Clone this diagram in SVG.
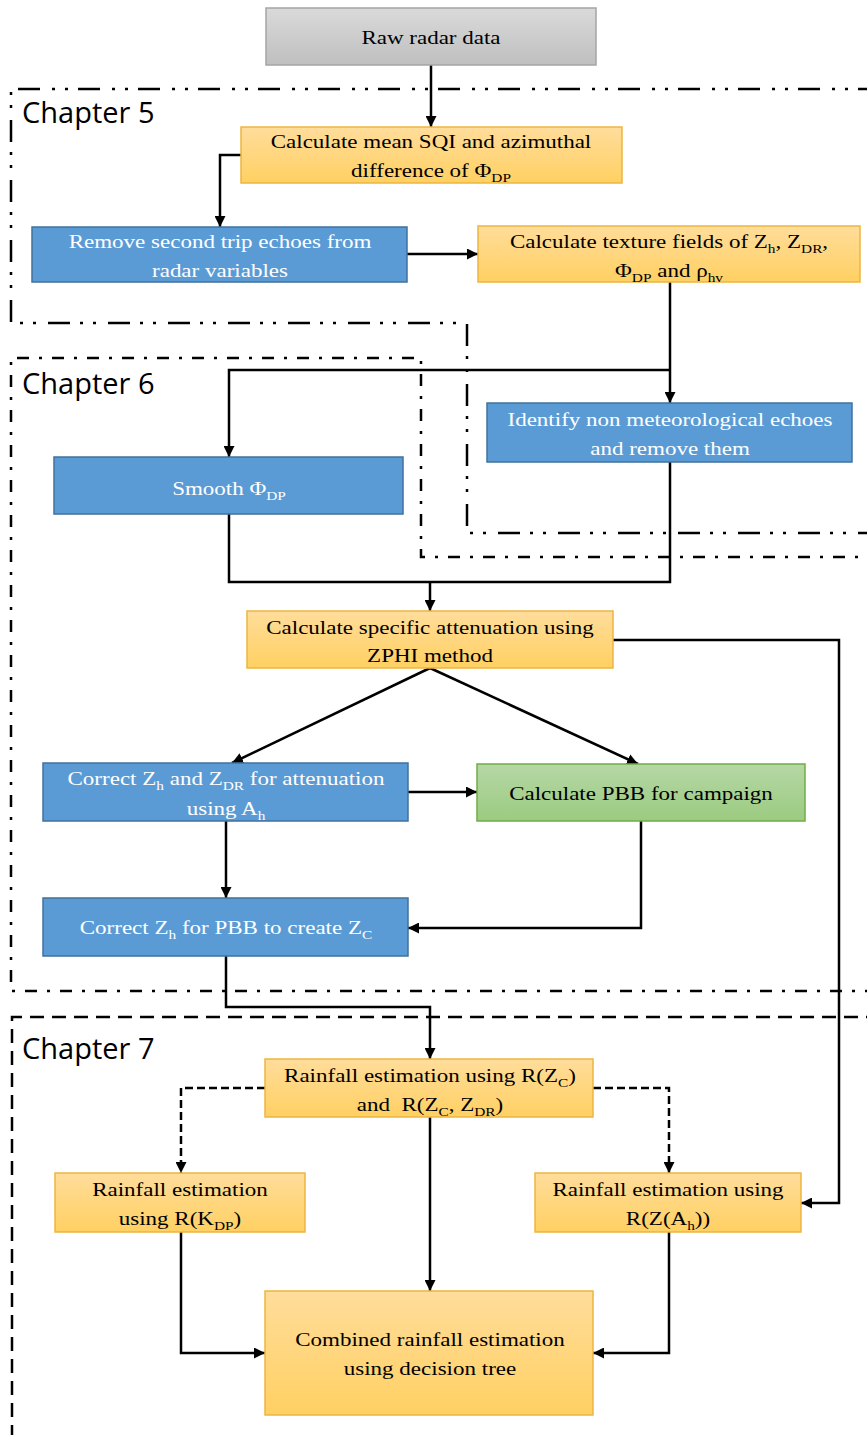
<svg xmlns="http://www.w3.org/2000/svg" width="867" height="1435" viewBox="0 0 867 1435">
  <style>
    .box { stroke-width: 1.5; }
    .blue { fill: #5B9BD5; stroke: #41719C; }
    .gold { fill: url(#gGold); stroke: #EDB540; }
    .green { fill: url(#gGreen); stroke: #70AD47; }
    .gray { fill: url(#gGray); stroke: #A5A5A5; }
    .t { font-family: "Liberation Serif", "Times New Roman", serif; font-size: 19.5px; text-anchor: middle; fill: #000; }
    .w { fill: #fff; }
    .sb { font-size: 13px; }
    .ch { font-family: "Open Sans", "Noto Sans", sans-serif; font-size: 29px; fill: #000; }
    .frame { fill: none; stroke: #000; stroke-width: 2.5; }
    .f5 { stroke-dasharray: 22 10 3 10 3 12; }
    .f6 { stroke-dasharray: 12 10 3 10; }
    .f7 { stroke-dasharray: 14 8; }
    .c { fill: none; stroke: #000; stroke-width: 2.5; }
    .a { marker-end: url(#arr); }
    .d { stroke-dasharray: 8 4; }
  </style>
  <defs>
    <linearGradient id="gGold" x1="0" y1="0" x2="0" y2="1">
      <stop offset="0" stop-color="#FFDD9B"/>
      <stop offset="1" stop-color="#FFD062"/>
    </linearGradient>
    <linearGradient id="gGreen" x1="0" y1="0" x2="0" y2="1">
      <stop offset="0" stop-color="#B6D7A6"/>
      <stop offset="1" stop-color="#9BCB80"/>
    </linearGradient>
    <linearGradient id="gGray" x1="0" y1="0" x2="0" y2="1">
      <stop offset="0" stop-color="#DADADA"/>
      <stop offset="1" stop-color="#BFBFBF"/>
    </linearGradient>
    <marker id="arr" markerUnits="userSpaceOnUse" markerWidth="12" markerHeight="11" refX="11" refY="5.5" orient="auto">
      <path d="M0,0 L11,5.5 L0,11 z" fill="#000"/>
    </marker>
  </defs>

  <!-- chapter frames -->
  <g id="frames">
    <path class="frame f5" d="M880 89 H11 V323 H467 V533 H880"/>
    <text class="ch" x="22" y="123">Chapter 5</text>
    <path class="frame f6" d="M880 557 H421 V358 H11 V991 H880"/>
    <text class="ch" x="22" y="394">Chapter 6</text>
    <path class="frame f7" d="M880 1017 H12 V1440"/>
    <text class="ch" x="22" y="1059">Chapter 7</text>
  </g>

  <!-- connectors -->
  <g id="connectors">
    <path class="c a" d="M431 65 V127"/>
    <path class="c a" d="M241 155 H220 V227"/>
    <path class="c a" d="M407 254 H478"/>
    <path class="c a" d="M670 282 V403"/>
    <path class="c a" d="M670 370 H229 V457"/>
    <path class="c" d="M229 514 V582 H670 V462"/>
    <path class="c a" d="M430 582 V611"/>
    <path class="c a" d="M430 668 L232 763"/>
    <path class="c a" d="M430 668 L638 764"/>
    <path class="c a" d="M408 792 H477"/>
    <path class="c a" d="M226 821 V898"/>
    <path class="c a" d="M641 821 V928 H408"/>
    <path class="c a" d="M613 640 H839 V1203 H801"/>
    <path class="c a" d="M226 956 V1007 H430 V1059"/>
    <path class="c d a" d="M265 1088 H181 V1173"/>
    <path class="c d a" d="M593 1088 H669 V1173"/>
    <path class="c a" d="M430 1117 V1291"/>
    <path class="c a" d="M181 1232 V1353 H265"/>
    <path class="c a" d="M669 1232 V1353 H593"/>
  </g>

  <g id="raw">
    <rect class="box gray" x="266" y="8" width="330" height="57"/>
    <text class="t" transform="translate(431 44) scale(1.18 1)">Raw radar data</text>
  </g>
  <g id="sqi">
    <rect class="box gold" x="241" y="127" width="381" height="56"/>
    <text class="t" transform="translate(431 148) scale(1.18 1)">Calculate mean SQI and azimuthal</text>
    <text class="t" transform="translate(431 177) scale(1.18 1)">difference of Φ<tspan class="sb" dy="5">DP</tspan></text>
  </g>
  <g id="second-trip">
    <rect class="box blue" x="32" y="227" width="375" height="55"/>
    <text class="t w" transform="translate(220 248) scale(1.18 1)">Remove second trip echoes from</text>
    <text class="t w" transform="translate(220 277) scale(1.18 1)">radar variables</text>
  </g>
  <g id="texture">
    <rect class="box gold" x="478" y="226" width="382" height="56"/>
    <text class="t" transform="translate(669 248) scale(1.18 1)">Calculate texture fields of Z<tspan class="sb" dy="5">h</tspan><tspan dy="-5">, Z</tspan><tspan class="sb" dy="5">DR</tspan><tspan dy="-5">,</tspan></text>
    <text class="t" transform="translate(669 277) scale(1.18 1)">Φ<tspan class="sb" dy="5">DP</tspan><tspan dy="-5"> and ρ</tspan><tspan class="sb" dy="5">hv</tspan></text>
  </g>
  <g id="identify">
    <rect class="box blue" x="487" y="403" width="365" height="59"/>
    <text class="t w" transform="translate(670 426) scale(1.18 1)">Identify non meteorological echoes</text>
    <text class="t w" transform="translate(670 455) scale(1.18 1)">and remove them</text>
  </g>
  <g id="smooth">
    <rect class="box blue" x="54" y="457" width="349" height="57"/>
    <text class="t w" transform="translate(229 495) scale(1.18 1)">Smooth Φ<tspan class="sb" dy="5">DP</tspan></text>
  </g>
  <g id="zphi">
    <rect class="box gold" x="247" y="611" width="366" height="57"/>
    <text class="t" transform="translate(430 634) scale(1.18 1)">Calculate specific attenuation using</text>
    <text class="t" transform="translate(430 662) scale(1.18 1)">ZPHI method</text>
  </g>
  <g id="atten-corr">
    <rect class="box blue" x="43" y="763" width="365" height="58"/>
    <text class="t w" transform="translate(226 785) scale(1.18 1)">Correct Z<tspan class="sb" dy="5">h</tspan><tspan dy="-5"> and Z</tspan><tspan class="sb" dy="5">DR</tspan><tspan dy="-5"> for attenuation</tspan></text>
    <text class="t w" transform="translate(226 815) scale(1.18 1)">using A<tspan class="sb" dy="5">h</tspan></text>
  </g>
  <g id="pbb">
    <rect class="box green" x="477" y="764" width="328" height="57"/>
    <text class="t" transform="translate(641 800) scale(1.18 1)">Calculate PBB for campaign</text>
  </g>
  <g id="pbb-corr">
    <rect class="box blue" x="43" y="898" width="365" height="58"/>
    <text class="t w" transform="translate(226 934) scale(1.18 1)">Correct Z<tspan class="sb" dy="5">h</tspan><tspan dy="-5"> for PBB to create Z</tspan><tspan class="sb" dy="5">C</tspan></text>
  </g>
  <g id="rain-zc">
    <rect class="box gold" x="265" y="1059" width="328" height="58"/>
    <text class="t" transform="translate(430 1082) scale(1.18 1)">Rainfall estimation using R(Z<tspan class="sb" dy="5">C</tspan><tspan dy="-5">)</tspan></text>
    <text class="t" xml:space="preserve" transform="translate(430 1111) scale(1.18 1)">and  R(Z<tspan class="sb" dy="5">C</tspan><tspan dy="-5">, Z</tspan><tspan class="sb" dy="5">DR</tspan><tspan dy="-5">)</tspan></text>
  </g>
  <g id="rain-kdp">
    <rect class="box gold" x="55" y="1173" width="250" height="59"/>
    <text class="t" transform="translate(180 1196) scale(1.18 1)">Rainfall estimation</text>
    <text class="t" transform="translate(180 1225) scale(1.18 1)">using R(K<tspan class="sb" dy="5">DP</tspan><tspan dy="-5">)</tspan></text>
  </g>
  <g id="rain-ah">
    <rect class="box gold" x="535" y="1173" width="266" height="59"/>
    <text class="t" transform="translate(668 1196) scale(1.18 1)">Rainfall estimation using</text>
    <text class="t" transform="translate(668 1225) scale(1.18 1)">R(Z(A<tspan class="sb" dy="5">h</tspan><tspan dy="-5">))</tspan></text>
  </g>
  <g id="combined">
    <rect class="box gold" x="265" y="1291" width="328" height="124"/>
    <text class="t" transform="translate(430 1346) scale(1.18 1)">Combined rainfall estimation</text>
    <text class="t" transform="translate(430 1375) scale(1.18 1)">using decision tree</text>
  </g>
</svg>
